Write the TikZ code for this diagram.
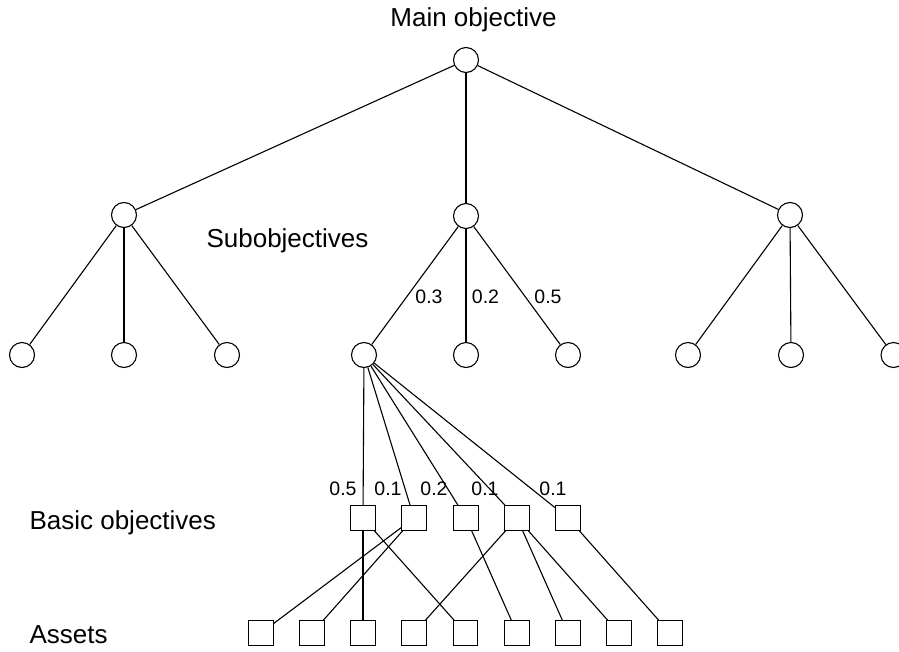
\documentclass[tikz,border=0pt]{standalone}
\usepackage{fontspec}
\setmainfont{Liberation Sans}
\begin{document}
\begin{tikzpicture}[x=1pt,y=-1pt,
  every path/.style={line width=1.1pt},
  obj/.style={circle,draw,line width=1.1pt,minimum size=25pt,inner sep=0pt},
  box/.style={rectangle,draw,line width=1.1pt,minimum size=24.5pt,inner sep=0pt},
  lbl/.style={font=\fontsize{26}{30}\selectfont,inner sep=0pt},
  wt/.style={font=\fontsize{19.5}{22}\selectfont,inner sep=0pt,anchor=base},
  edge/.style={line width=1.1pt}]
\useasboundingbox (0,0) rectangle (899,651);
% text labels
\node[lbl,anchor=base] (tmain) at (473.5,26) {Main objective};
\node[lbl,anchor=base west] (tsub) at (206,247) {Subobjectives};
\node[lbl,anchor=base west] (tbasic) at (29,529) {Basic objectives};
\node[lbl,anchor=base west] (tassets) at (29,643) {Assets};
% root
\node[obj] (r) at (466,60) {};
% level 2
\node[obj] (s1) at (124,215) {};
\node[obj] (s2) at (466,216) {};
\node[obj] (s3) at (790,215) {};
% level 3
\node[obj] (c1) at (22,355) {};
\node[obj] (c2) at (124,355) {};
\node[obj] (c3) at (227,355) {};
\node[obj] (c4) at (364,355) {};
\node[obj] (c5) at (466,355) {};
\node[obj] (c6) at (568,355) {};
\node[obj] (c7) at (688,355) {};
\node[obj] (c8) at (791,355) {};
\node[obj] (c9) at (893.5,355) {};
% basic objectives
\foreach \i/\x in {1/363,2/414,3/466,4/517,5/568}
  \node[box] (b\i) at (\x,518) {};
% assets
\foreach \i/\x in {1/261,2/312,3/363,4/414,5/465.5,6/517,7/568,8/619,9/670}
  \node[box] (a\i) at (\x,633) {};
% edges
\foreach \t in {s1,s2,s3} \draw[edge] (r) -- (\t);
\foreach \t in {c1,c2,c3} \draw[edge] (s1) -- (\t);
\foreach \t in {c4,c5,c6} \draw[edge] (s2) -- (\t);
\foreach \t in {c7,c8,c9} \draw[edge] (s3) -- (\t);
\foreach \t in {b1,b2,b3,b4,b5} \draw[edge] (c4) -- (\t);
\draw[edge] (b1) -- (a3);
\draw[edge] (b1) -- (a5);
\draw[edge] (b2) -- (a1);
\draw[edge] (b2) -- (a2);
\draw[edge] (b3) -- (a6);
\draw[edge] (b4) -- (a4);
\draw[edge] (b4) -- (a7);
\draw[edge] (b4) -- (a8);
\draw[edge] (b5) -- (a9);
% weights
\node[wt] (w1) at (429,303) {0.3};
\node[wt] (w2) at (485.5,303) {0.2};
\node[wt] (w3) at (548,303) {0.5};
\node[wt] (w4) at (343,495.5) {0.5};
\node[wt] (w5) at (388,495.5) {0.1};
\node[wt] (w6) at (434,495.5) {0.2};
\node[wt] (w7) at (485,495.5) {0.1};
\node[wt] (w8) at (553,495.5) {0.1};
\end{tikzpicture}
\end{document}
